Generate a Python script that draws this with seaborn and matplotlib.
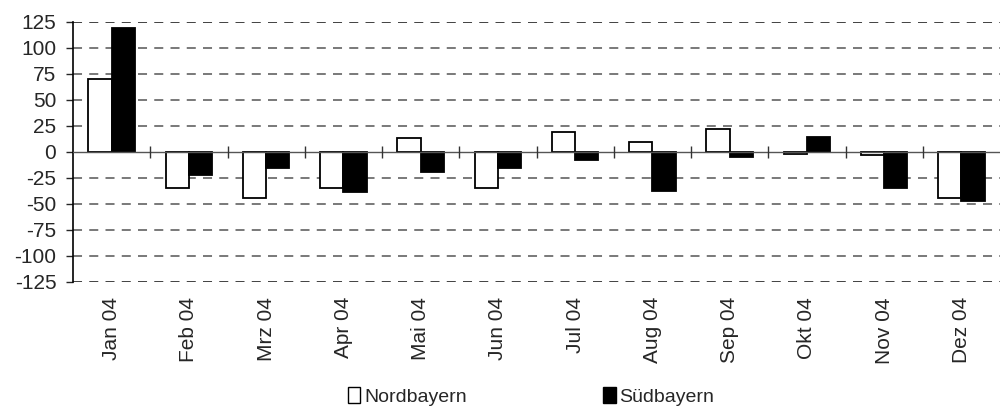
import pandas as pd
import matplotlib
matplotlib.use("Agg")
import matplotlib.pyplot as plt
import seaborn as sns

months = ["Jan 04", "Feb 04", "Mrz 04", "Apr 04", "Mai 04", "Jun 04",
          "Jul 04", "Aug 04", "Sep 04", "Okt 04", "Nov 04", "Dez 04"]
nordbayern = [70, -35, -44, -35, 13, -35, 19, 9, 22, -2, -3, -44]
suedbayern = [119, -22, -16, -39, -19, -16, -8, -38, -5, 14, -35, -47]
yticks = [125, 100, 75, 50, 25, 0, -25, -50, -75, -100, -125]

df = pd.DataFrame({
    "Monat": months * 2,
    "Wert": nordbayern + suedbayern,
    "Region": ["Nordbayern"] * len(months) + ["Südbayern"] * len(months),
})

sns.set_theme(style="white")
plt.rcParams["font.family"] = ["Liberation Sans", "DejaVu Sans"]

fig = plt.figure(figsize=(10, 4.12), dpi=100)
ax = fig.add_axes([0.073, 0.316, 0.927, 0.631])

sns.barplot(data=df, x="Monat", y="Wert", hue="Region",
            palette={"Nordbayern": "white", "Südbayern": "black"},
            edgecolor="black", linewidth=1.3, width=0.6, ax=ax,
            legend=True, zorder=3)

ax.set_ylim(-125, 125)
ax.set_xlim(-0.5, len(months) - 0.5)
ax.set_yticks(yticks)
ax.set_yticklabels([str(v) for v in yticks], fontsize=15)
ax.set_xticks(range(len(months)))
ax.set_xticklabels(months, rotation=90, fontsize=15)
ax.tick_params(axis="x", length=0, pad=11)
ax.tick_params(axis="y", length=5, width=1, direction="out", left=True, pad=7)
ax.set_xlabel("")
ax.set_ylabel("")

for v in yticks:
    if v == 0:
        continue
    c = "#333333" if abs(v) == 125 else "#6e6e6e"
    ax.axhline(v, color=c, linestyle=(0, (5, 4)), linewidth=1.3, zorder=1)

# zero line with category separator ticks
ax.axhline(0, color="#555555", linewidth=1, zorder=4)
bounds = [i + 0.5 for i in range(len(months) - 1)]
ax.vlines(bounds, -6, 6, color="#333333", linewidth=1, zorder=4)

for s in ["top", "right", "bottom"]:
    ax.spines[s].set_visible(False)
ax.spines["left"].set_color("black")
ax.spines["left"].set_linewidth(1.2)

handles, labels = ax.get_legend_handles_labels()
leg = ax.legend(handles, labels, loc="center", bbox_to_anchor=(0.494, -0.44),
                ncol=2, frameon=False,
                prop={"family": ["Liberation Sans Narrow", "Liberation Sans"], "size": 14},
                handlelength=0.65, handleheight=0.9, handletextpad=0.2,
                columnspacing=7, borderpad=0)
for h in leg.legend_handles:
    h.set_linewidth(1)

fig.savefig("out.png", dpi=100)
